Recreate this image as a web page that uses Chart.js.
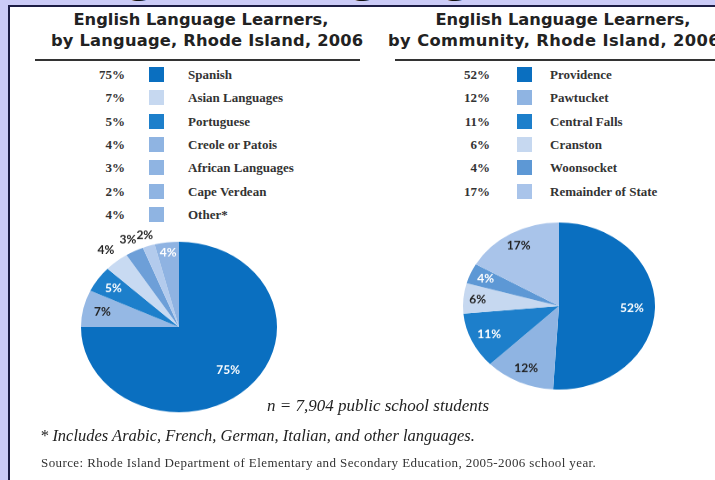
<!DOCTYPE html>
<html>
<head>
<meta charset="utf-8">
<script src="https://cdn.jsdelivr.net/npm/chart.js"></script>
<style>
  html, body { margin: 0; padding: 0; }
  body { width: 715px; height: 480px; background: #cbcbf7; position: relative; overflow: hidden; }
  #bigTitle { position: absolute; left: 64px; top: -45px; font-family: "DejaVu Sans", sans-serif; font-weight: bold;
              font-size: 44px; line-height: 44px; color: #111; white-space: nowrap; }
  #panel { position: absolute; left: 8px; top: 5px; width: 720px; height: 490px; background: #fff;
           border-left: 2px solid #1c1c44; border-top: 2px solid #1c1c44; }
  .title { position: absolute; font-family: "DejaVu Sans", sans-serif; font-weight: bold; font-size: 16.3px;
           line-height: 21px; color: #222; white-space: nowrap; }
  .rule { position: absolute; height: 2px; background: #333; }
  .leg { position: absolute; font-family: "Liberation Serif", serif; font-weight: bold; font-size: 13px; color: #333; }
  .leg .row { position: absolute; height: 16px; line-height: 16px; white-space: nowrap; }
  .leg .pct { position: absolute; right: 0; text-align: right; }
  .leg .sw { position: absolute; width: 15px; height: 15px; }
  .leg .lab { position: absolute; }
  .pie { position: absolute; transform: scaleY(0.87); transform-origin: 50% 50%; }
  .note { position: absolute; font-family: "Liberation Serif", serif; font-style: italic; color: #222; white-space: nowrap; }
  .src { position: absolute; font-family: "Liberation Serif", serif; font-size: 13px; letter-spacing: 0.4px; color: #333; white-space: nowrap; }
</style>
</head>
<body>
<div id="bigTitle">English Language Learners</div>
<div id="panel"></div>

<div class="title" style="left:51px; top:9px; width:300px; text-align:center;">English Language Learners,</div>
<div class="title" style="left:51px; top:30px; width:300px; text-align:center; letter-spacing:0.2px;">by Language, Rhode Island, 2006</div>
<div class="title" style="left:413px; top:9px; width:300px; text-align:center;">English Language Learners,</div>
<div class="title" style="left:388px; top:30px; letter-spacing:0.4px;">by Community, Rhode Island, 2006</div>
<div class="rule" style="left:35px; top:59px; width:325px;"></div>
<div class="rule" style="left:395px; top:59px; width:330px;"></div>

<div id="legLang" class="leg"></div>
<div id="legCity" class="leg"></div>

<div class="pie" style="left:49px; top:197px; width:260px; height:260px;"><canvas id="pieLang"></canvas></div>
<div class="pie" style="left:431px; top:178px; width:256px; height:256px;"><canvas id="pieCity"></canvas></div>

<div class="note" style="left:267px; top:396px; font-size:17px;">n = 7,904 public school students</div>
<div class="note" style="left:40px; top:426px; font-size:16.5px;">* Includes Arabic, French, German, Italian, and other languages.</div>
<div class="src" style="left:41px; top:455px;">Source: Rhode Island Department of Elementary and Secondary Education, 2005-2006 school year.</div>

<script>
// === DADOS ===
const langLabels = ['Spanish', 'Asian Languages', 'Portuguese', 'Creole or Patois', 'African Languages', 'Cape Verdean', 'Other*'];
const langValues = [75, 7, 5, 4, 3, 2, 4];
const cityLabels = ['Providence', 'Pawtucket', 'Central Falls', 'Cranston', 'Woonsocket', 'Remainder of State'];
const cityValues = [52, 12, 11, 6, 4, 17];

// === ESTILO ===
const langLegendColors = ['#0a6fc0', '#c6d8f0', '#1d7fcb', '#8fb4e2', '#8fb4e2', '#8fb4e2', '#8fb4e2'];
const langPieColors = ['#0a6fc0', '#95b8e4', '#1d7fcb', '#c8daf2', '#6d9fd8', '#b3cbed', '#8fb3e2'];
const langLabelColors = ['#fff', '#222', '#fff', '#222', '#222', '#222', '#fff'];
const langLabelRadius = [0.71, 0.80, 0.81, 1.17, 1.15, 1.13, 0.88];

const cityColors = ['#0a6fc0', '#8fb4e2', '#1d7fcb', '#c6d8f0', '#5d98d5', '#a9c4ea'];
const cityLabelColors = ['#fff', '#222', '#fff', '#222', '#fff', '#222'];
const cityLabelRadius = [0.76, 0.82, 0.80, 0.85, 0.83, 0.84];

const squash = 0.87;

// === LEGENDAS ===
function montarLegenda(el, left, pctRight, swX, labX, labels, values, colors) {
  el.style.left = left + 'px';
  el.style.top = '0px';
  labels.forEach((lab, i) => {
    const y = 67 + i * 23.3;
    el.innerHTML += `
      <div class="row" style="top:${y}px; left:0; width:300px;">
        <span class="pct" style="right:${300 - pctRight}px">${values[i]}%</span>
        <span class="sw" style="left:${swX}px; top:0px; background:${colors[i]}"></span>
        <span class="lab" style="left:${labX}px">${lab}</span>
      </div>`;
  });
}
montarLegenda(document.getElementById('legLang'), 40, 85, 109, 148, langLabels, langValues, langLegendColors);
montarLegenda(document.getElementById('legCity'), 380, 110, 137, 170, cityLabels, cityValues, cityColors);

// === RÓTULOS DAS FATIAS ===
const sliceLabels = {
  id: 'sliceLabels',
  afterDatasetsDraw(chart, args, opts) {
    const ctx = chart.ctx;
    const ds = chart.data.datasets[0];
    chart.getDatasetMeta(0).data.forEach((arc, i) => {
      const mid = (arc.startAngle + arc.endAngle) / 2;
      const r = arc.outerRadius * opts.radius[i];
      const x = arc.x + Math.cos(mid) * r;
      const y = arc.y + Math.sin(mid) * r; // achatamento vertical vem do CSS
      ctx.save();
      ctx.translate(x, y);
      ctx.scale(1, 1 / squash);
      ctx.font = 'bold 12px Lato, sans-serif';
      ctx.fillStyle = opts.colors[i];
      ctx.textAlign = 'center';
      ctx.textBaseline = 'middle';
      ctx.fillText(ds.data[i] + '%', 0, 0);
      ctx.restore();
    });
  }
};

function criarPizza(id, labels, values, colors, labelColors, radius, pad) {
  return new Chart(document.getElementById(id), {
    type: 'pie',
    data: {
      labels,
      datasets: [{ data: values, backgroundColor: colors, borderWidth: 0 }]
    },
    options: {
      responsive: true,
      maintainAspectRatio: false,
      animation: false,
      layout: { padding: pad },
      plugins: {
        legend: { display: false },
        tooltip: { enabled: false },
        sliceLabels: { colors: labelColors, radius }
      }
    },
    plugins: [sliceLabels]
  });
}

criarPizza('pieLang', langLabels, langValues, langPieColors, langLabelColors, langLabelRadius, 32);
criarPizza('pieCity', cityLabels, cityValues, cityColors, cityLabelColors, cityLabelRadius, 32);
</script>
</body>
</html>
